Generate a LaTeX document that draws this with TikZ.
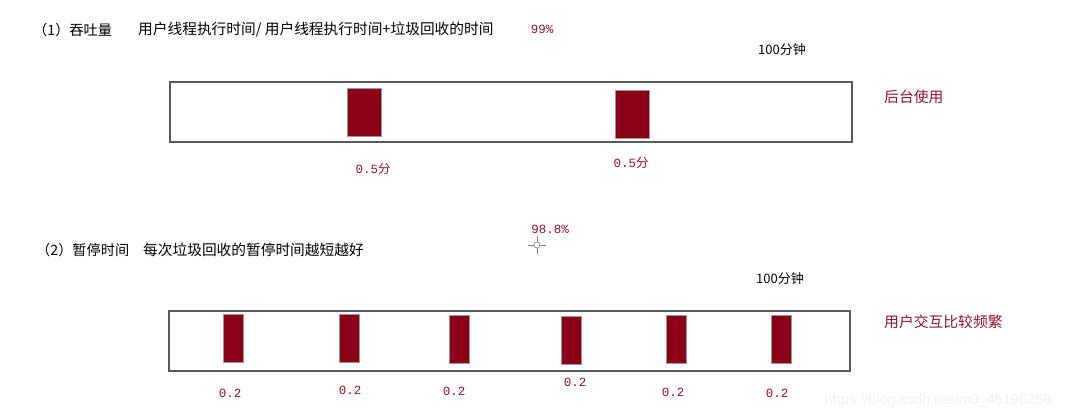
\documentclass[tikz,border=0pt]{standalone}
\usepackage{fontspec}
\usetikzlibrary{calc}
\newfontfamily\cjk{Noto Sans CJK SC}
\newfontfamily\monof{Liberation Mono}
\newfontfamily\wmfont{Liberation Sans}
\definecolor{barred}{RGB}{139,0,24}
\definecolor{txtred}{RGB}{145,20,40}
\definecolor{boxgray}{RGB}{90,90,90}
\definecolor{wmgray}{RGB}{240,240,240}
\tikzset{
  head/.style={font=\cjk\fontsize{14.7}{16}\selectfont, text=black, inner sep=0pt, anchor=west},
  parttitle/.style={font=\cjk\fontsize{14.2}{16}\selectfont, text=black, inner sep=0pt, anchor=west},
  rednote/.style={font=\cjk\fontsize{14.8}{16}\selectfont, text=txtred, inner sep=0pt, anchor=west},
  rednum/.style={font=\monof\fontsize{12.5}{14}\selectfont, text=txtred, inner sep=0pt},
  timebox/.style={draw=boxgray, line width=1.3pt, fill=white, inner sep=0pt},
  gcbar/.style={draw=gray!80, line width=0.5pt, fill=barred, inner sep=0pt},
}
\begin{document}
\begin{tikzpicture}[x=1pt, y=-1pt]
\useasboundingbox (0,0) rectangle (1071,420);
\fill[white] (0,0) rectangle (1071,420);

% ---------- part 1 ----------
\node[parttitle] (t1) at (33,30) {（1）吞吐量};
\node[head] (f1) at (138,30) {用户线程执行时间/ 用户线程执行时间+垃圾回收的时间};
\node[rednum] (p1) at (542,29) {99\%};
\node[font=\cjk\fontsize{13}{15}\selectfont, inner sep=0pt] (m1) at (782,50) {100分钟};

\node[timebox, minimum width=682, minimum height=60] (box1) at (511,112) {};
\node[gcbar, minimum width=34, minimum height=48] (a1) at (364.5,112) {};
\node[gcbar, minimum width=34, minimum height=48] (a2) at (632,114) {};
\node[rednum] (la1) at (373,169) {0.5{\cjk 分}};
\node[rednum] (la2) at (631,163) {0.5{\cjk 分}};
\node[rednote] (u1) at (884,97) {后台使用};

% ---------- middle ----------
\node[rednum] (p2) at (550,229) {98.8\%};
\coordinate (cur) at (537,245);
\draw[gray, line width=0.6pt] (cur) circle (3);
\draw[gray, line width=0.6pt] ($(cur)+(-9,0)$) -- ($(cur)+(-3,0)$)
  ($(cur)+(3,0)$) -- ($(cur)+(9,0)$)
  ($(cur)+(0,-9)$) -- ($(cur)+(0,-3)$)
  ($(cur)+(0,3)$) -- ($(cur)+(0,9)$);

% ---------- part 2 ----------
\node[parttitle] (t2) at (36,250) {（2）暂停时间};
\node[head] (f2) at (143,250) {每次垃圾回收的暂停时间越短越好};
\node[font=\cjk\fontsize{13}{15}\selectfont, inner sep=0pt] (m2) at (780,279) {100分钟};

\node[timebox, minimum width=681, minimum height=60] (box2) at (509.5,341) {};
\node[gcbar, minimum width=20, minimum height=48] (c1) at (233,338) {};
\node[gcbar, minimum width=20, minimum height=48] (c2) at (349.5,338) {};
\node[gcbar, minimum width=20, minimum height=48] (c3) at (459.5,339) {};
\node[gcbar, minimum width=20, minimum height=48] (c4) at (571.5,340) {};
\node[gcbar, minimum width=20, minimum height=48] (c5) at (676.5,339) {};
\node[gcbar, minimum width=20, minimum height=48] (c6) at (781.5,339.5) {};
\node[rednum] (l1) at (230,393) {0.2};
\node[rednum] (l2) at (350,390) {0.2};
\node[rednum] (l3) at (454,391) {0.2};
\node[rednum] (l4) at (575,382) {0.2};
\node[rednum] (l5) at (673,392) {0.2};
\node[rednum] (l6) at (777,393) {0.2};
\node[rednote] (u2) at (884,322) {用户交互比较频繁};

% watermark
\node[font=\wmfont\fontsize{14.5}{16}\selectfont, text=wmgray, inner sep=0pt] (wm) at (938,401) {https://blog.csdn.net/m0\_45196258};
\end{tikzpicture}
\end{document}
